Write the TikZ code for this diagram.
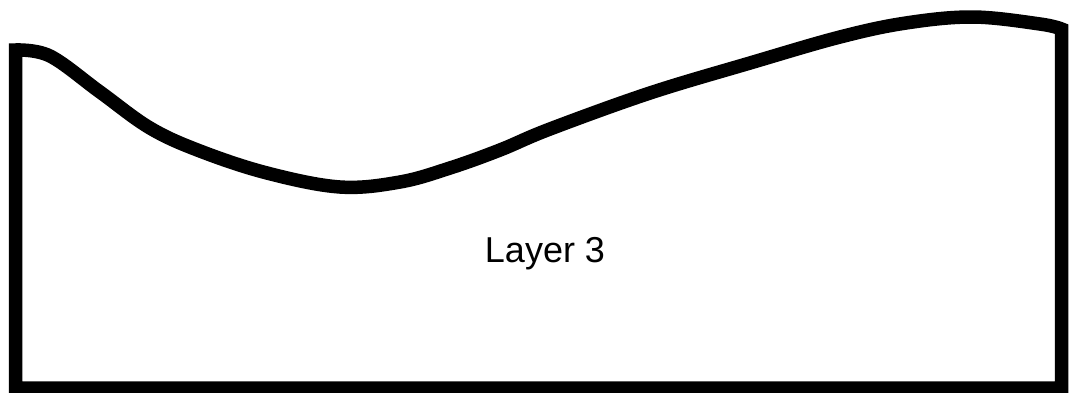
\documentclass[tikz,border=0pt]{standalone}
\usepackage{fontspec}
\setmainfont{Liberation Sans}
\usepackage{tikz}

\begin{document}
\begin{tikzpicture}[
                x=1pt, y=-1pt,
                font=\fontsize{36}{40}\selectfont,
                outline/.style={draw, line width=13.5pt, line join=miter},
                label/.style={anchor=center, inner sep=0pt}
            ]
                \useasboundingbox (0,0) rectangle (1073,392);

                % --- ECKPUNKTE ---
                \coordinate (topleft) at (15.5,50);
                \coordinate (topright) at (1061.5,29);
                \coordinate (bottomright) at (1061.5,388);
                \coordinate (bottomleft) at (15.5,388);

                % --- SCHICHT ---
                \draw[outline] plot[smooth, tension=0.6] coordinates {
                    (15.5,50) (50,56) (100,92) (150,128) (200,151) (267,173)
                    (340,187) (400,182) (450,168) (500,150) (550,129) (650,93)
                    (750,63) (840,37) (906,23) (973,17) (1040,24) (1061.5,29)}
                    -- (bottomright) -- (bottomleft) -- cycle;

                \node[label] (layer) at (545,254) {Layer 3};

            \end{tikzpicture}
\end{document}
